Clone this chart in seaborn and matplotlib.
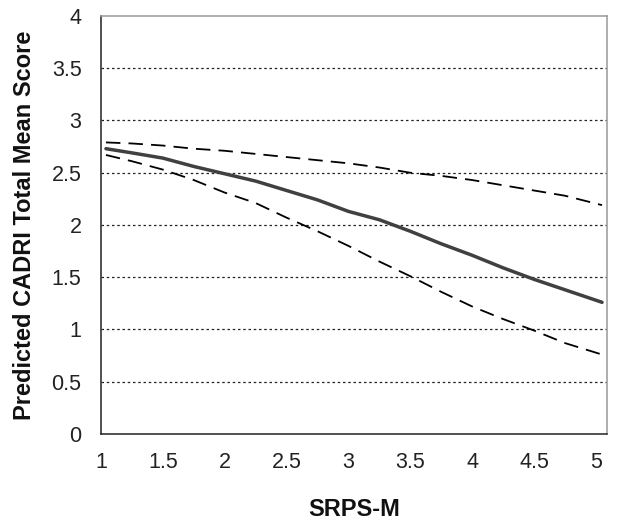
import matplotlib
matplotlib.use("Agg")
import matplotlib.pyplot as plt
import seaborn as sns
import pandas as pd

x_vals = [1.04, 1.25, 1.5, 1.75, 2.0, 2.25, 2.5, 2.75, 3.0, 3.25, 3.5, 3.75, 4.0, 4.25, 4.5, 4.75, 5.05]
predicted = [2.73, 2.69, 2.64, 2.56, 2.49, 2.42, 2.33, 2.24, 2.13, 2.05, 1.94, 1.82, 1.71, 1.59, 1.48, 1.38, 1.26]
upper_ci = [2.79, 2.78, 2.76, 2.73, 2.71, 2.68, 2.65, 2.62, 2.59, 2.55, 2.50, 2.47, 2.43, 2.38, 2.33, 2.28, 2.19]
lower_ci = [2.67, 2.61, 2.53, 2.43, 2.31, 2.21, 2.07, 1.94, 1.80, 1.65, 1.51, 1.36, 1.22, 1.10, 0.99, 0.87, 0.76]
x_ticks = [1, 1.5, 2, 2.5, 3, 3.5, 4, 4.5, 5]
y_ticks = [0, 0.5, 1, 1.5, 2, 2.5, 3, 3.5, 4]

sns.set_style("white")
plt.rcParams['font.family'] = ['Liberation Sans', 'DejaVu Sans']

df = pd.DataFrame({"x": x_vals, "pred": predicted, "up": upper_ci, "lo": lower_ci})

fig = plt.figure(figsize=(6.17, 5.24), dpi=100)
ax = fig.add_axes([0.1637, 0.1718, 0.8201, 0.7977])

for yv in y_ticks[1:-1]:
    ax.axhline(yv, color="#222222", linestyle=(0, (2, 2.2)), linewidth=0.9, zorder=1)

sns.lineplot(data=df, x="x", y="up", ax=ax, color="black", linewidth=1.3,
             linestyle=(0, (8, 4.5)), zorder=3)
sns.lineplot(data=df, x="x", y="lo", ax=ax, color="black", linewidth=1.3,
             linestyle=(0, (8, 4.5)), zorder=3)
sns.lineplot(data=df, x="x", y="pred", ax=ax, color="#404040", linewidth=2.5, zorder=4)

ax.set_xlim(1, 5.09)
ax.set_ylim(0, 4)
ax.set_xticks(x_ticks)
ax.set_xticklabels([f"{t:g}" for t in x_ticks])
ax.set_yticks(y_ticks)
ax.set_yticklabels([f"{t:g}" for t in y_ticks])

for side in ["left", "bottom"]:
    ax.spines[side].set_color("#222222")
    ax.spines[side].set_linewidth(1.1)
for side in ["top", "right"]:
    ax.spines[side].set_color("#999999")
    ax.spines[side].set_linewidth(1.1)

ax.tick_params(axis="both", which="major", direction="out", width=1,
               color="#222222", labelsize=15.5, labelcolor="#222222")
ax.tick_params(axis="y", length=6, pad=8)
ax.tick_params(axis="x", length=6, pad=7)

ax.set_xlabel("SRPS-M", fontsize=17, fontweight="bold", labelpad=18, color="#111111")
ax.set_ylabel("Predicted CADRI Total Mean Score", fontsize=17, fontweight="bold",
              labelpad=11, color="#111111")

fig.savefig("out.png", dpi=100)
